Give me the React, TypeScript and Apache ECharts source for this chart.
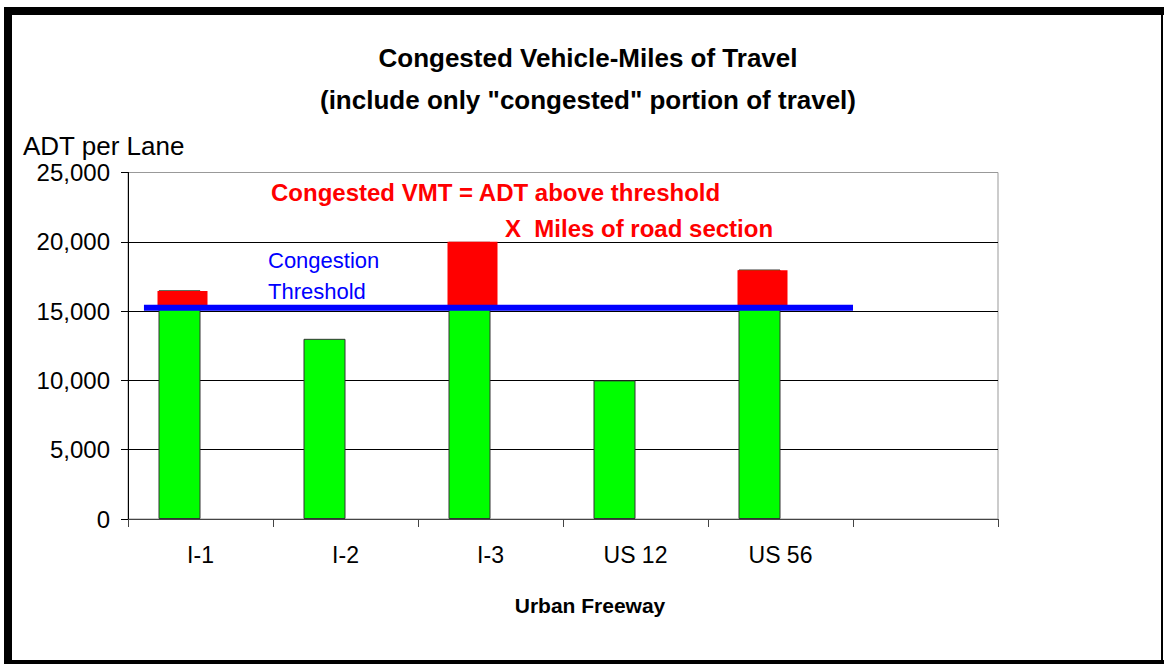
import React, { useEffect, useRef } from "react";
import * as echarts from "echarts";

const categories = ["I-1", "I-2", "I-3", "US 12", "US 56", ""];
const adtPerLane = [16500, 13000, 20000, 10000, 18000];
const congestedTop = [16450, null, 20000, null, 17950];
const thresholdValue = 15250;
const thresholdSpan = [0.11, 5];
const yTicks = [0, 5000, 10000, 15000, 20000, 25000];

const FONT = "'Liberation Sans', Arial, sans-serif";

export default function App() {
  const ref = useRef<HTMLDivElement>(null);
  useEffect(() => {
    document.body.style.margin = "0";
    const chart = echarts.init(ref.current!, null, { renderer: "svg" });
    const redData = congestedTop
      .map((v, i) => (v == null ? null : [i, v, thresholdValue]))
      .filter((d) => d !== null);
    chart.setOption({
      animation: false,
      backgroundColor: "#ffffff",
      textStyle: { fontFamily: FONT },
      grid: { left: 128, right: 166, top: 172.5, bottom: 145, show: true, borderColor: "#999", borderWidth: 1, containLabel: false },
      xAxis: [
        {
          type: "category",
          data: categories,
          boundaryGap: true,
          axisLine: { show: true, lineStyle: { color: "#444", width: 1 } },
          axisTick: { show: true, length: 8, lineStyle: { color: "#444" } },
          axisLabel: { color: "#000", fontSize: 23, margin: 24, fontFamily: FONT, interval: 0 },
          splitLine: { show: false },
        },
        { type: "value", min: 0, max: 6, show: false },
      ],
      yAxis: {
        type: "value",
        min: yTicks[0],
        max: yTicks[yTicks.length - 1],
        interval: 5000,
        axisLine: { show: true, lineStyle: { color: "#000", width: 1 } },
        axisTick: { show: true, length: 7, lineStyle: { color: "#000" } },
        axisLabel: {
          color: "#000",
          fontSize: 24,
          margin: 18,
          fontFamily: FONT,
          formatter: (v: number) => v.toLocaleString("en-US"),
        },
        splitLine: { show: true, lineStyle: { color: ["#000", "#000", "#000", "#000", "#000", "#999"], width: 1 } },
      },
      series: [
        {
          type: "bar",
          data: adtPerLane,
          barWidth: 42,
          barGap: "0%",
          itemStyle: { color: "#00ff00", borderColor: "#333", borderWidth: 1 },
          z: 2,
        },
        {
          type: "bar",
          data: adtPerLane.map(() => null),
          barWidth: 42,
          barGap: "0%",
          itemStyle: { color: "transparent" },
        },
        {
          type: "custom",
          data: redData,
          z: 3,
          renderItem: (params: any, api: any) => {
            const top = api.coord([api.value(0), api.value(1)]);
            const bot = api.coord([api.value(0), api.value(2)]);
            return {
              type: "rect",
              shape: { x: top[0] - 43, y: top[1], width: 50, height: bot[1] - top[1] },
              style: { fill: "#ff0000" },
            };
          },
        },
        {
          type: "line",
          xAxisIndex: 1,
          data: [
            [thresholdSpan[0], thresholdValue],
            [thresholdSpan[1], thresholdValue],
          ],
          symbol: "none",
          lineStyle: { color: "#0000ff", width: 6 },
          z: 5,
        },
      ],
      graphic: [
        { type: "rect", shape: { x: 4, y: 7, width: 1160, height: 8 }, style: { fill: "#000" } },
        { type: "rect", shape: { x: 4, y: 7, width: 8, height: 657 }, style: { fill: "#000" } },
        { type: "rect", shape: { x: 1161, y: 7, width: 2, height: 657 }, style: { fill: "#000" } },
        { type: "rect", shape: { x: 4, y: 660, width: 1160, height: 4 }, style: { fill: "#000" } },
        {
          type: "text",
          x: 588,
          y: 58,
          style: { text: "Congested Vehicle-Miles of Travel", fontSize: 26, fontWeight: "bold", fill: "#000", align: "center", verticalAlign: "middle", fontFamily: FONT },
        },
        {
          type: "text",
          x: 588,
          y: 100,
          style: { text: '(include only "congested" portion of travel)', fontSize: 26, fontWeight: "bold", fill: "#000", align: "center", verticalAlign: "middle", fontFamily: FONT },
        },
        {
          type: "text",
          x: 23,
          y: 146,
          style: { text: "ADT per Lane", fontSize: 26, fill: "#000", align: "left", verticalAlign: "middle", fontFamily: FONT },
        },
        {
          type: "text",
          x: 271,
          y: 192,
          z: 10,
          style: { text: "Congested VMT = ADT above threshold", fontSize: 24, fontWeight: "bold", fill: "#ff0000", align: "left", verticalAlign: "middle", fontFamily: FONT },
        },
        {
          type: "text",
          x: 505,
          y: 228,
          z: 10,
          style: { text: "X  Miles of road section", fontSize: 24, fontWeight: "bold", fill: "#ff0000", align: "left", verticalAlign: "middle", fontFamily: FONT },
        },
        {
          type: "text",
          x: 268,
          y: 260,
          z: 10,
          style: { text: "Congestion", fontSize: 22, fill: "#0000ff", align: "left", verticalAlign: "middle", fontFamily: FONT },
        },
        {
          type: "text",
          x: 268,
          y: 291,
          z: 10,
          style: { text: "Threshold", fontSize: 22, fill: "#0000ff", align: "left", verticalAlign: "middle", fontFamily: FONT },
        },
        {
          type: "text",
          x: 590,
          y: 605,
          style: { text: "Urban Freeway", fontSize: 21, fontWeight: "bold", fill: "#000", align: "center", verticalAlign: "middle", fontFamily: FONT },
        },
      ],
    });
    return () => chart.dispose();
  }, []);
  return <div ref={ref} style={{ position: "absolute", left: 0, top: 0, width: 1164, height: 664 }} />;
}
